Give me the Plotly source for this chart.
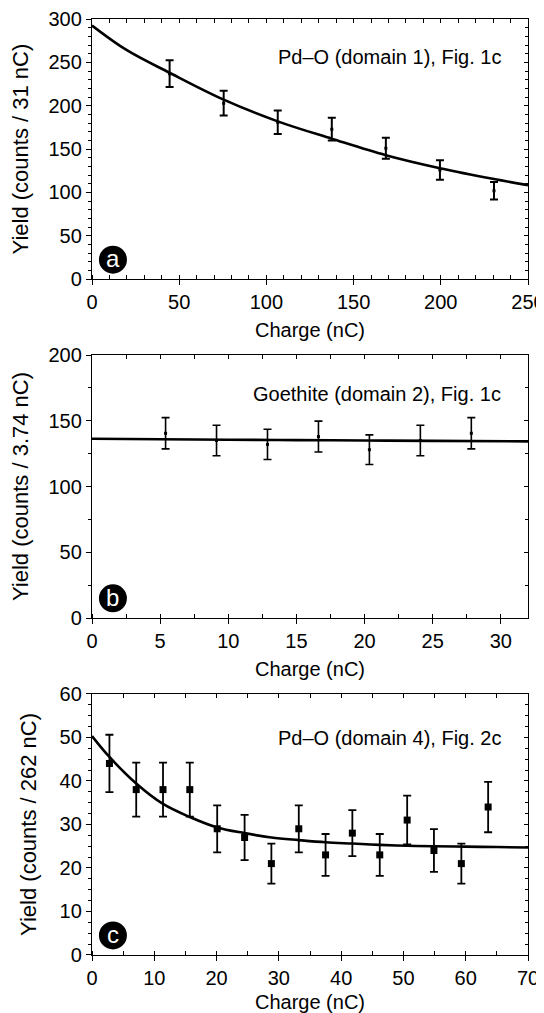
import plotly.graph_objects as go

# ---------------- data ----------------
# Panel a: Pd-O (domain 1)
a_charge = [44.5, 75.5, 106.5, 137.5, 168.5, 199.5, 230.5]
a_yield = [237, 203, 181, 173, 151, 126, 102]
a_err = [15.5, 14.2, 13.5, 13.1, 12.2, 11.2, 10.1]
a_fit_x = [0, 20, 44.5, 75.5, 106.5, 137.5, 168.5, 199.5, 230.5, 250]
a_fit_y = [292.5, 264, 238, 207, 182, 162, 143, 128, 115.5, 108.5]

# Panel b: Goethite (domain 2)
b_charge = [5.40, 9.14, 12.88, 16.62, 20.36, 24.10, 27.84]
b_yield = [140.5, 135, 132, 138, 128, 135, 140.5]
b_err = [11.9, 11.6, 11.5, 11.7, 11.3, 11.6, 11.9]
b_fit_x = [0, 5, 10, 15, 20, 25, 32]
b_fit_y = [136.3, 136.0, 135.6, 135.3, 135.0, 134.7, 134.3]

# Panel c: Pd-O (domain 4)
c_charge = [2.8, 7.1, 11.4, 15.7, 20.1, 24.5, 28.8, 33.2, 37.5, 41.8, 46.2, 50.6, 54.9, 59.3, 63.6]
c_yield = [44, 38, 38, 38, 29, 27, 21, 29, 23, 28, 23, 31, 24, 21, 34]
c_err = [6.6, 6.2, 6.2, 6.2, 5.4, 5.2, 4.6, 5.4, 4.8, 5.3, 4.8, 5.6, 4.9, 4.6, 5.8]
c_fit_x = [0, 2.8, 7.1, 11.4, 15.7, 20.1, 24.5, 28.8, 33.2, 37.5, 41.8, 46.2, 50.6, 55, 60, 65, 70]
c_fit_y = [50.3, 45.5, 39.4, 34.7, 31.7, 29.3, 28.0, 27.0, 26.4, 25.9, 25.6, 25.3, 25.1, 25.0, 24.9, 24.8, 24.7]

panel_labels = ["Pd\u2013O (domain 1), Fig. 1c", "Goethite (domain 2), Fig. 1c", "Pd\u2013O (domain 4), Fig. 2c"]
panel_letters = ["a", "b", "c"]
y_titles = ["Yield (counts / 31 nC)", "Yield (counts / 3.74 nC)", "Yield (counts / 262 nC)"]
x_title = "Charge (nC)"

# ---------------- figure ----------------
FONT = "Arial, Liberation Sans, sans-serif"
FS = 20
fig = go.Figure()

panels = [
    dict(cx=a_charge, cy=a_yield, ce=a_err, fx=a_fit_x, fy=a_fit_y, msize=3, xr=[0, 250], yr=[0, 300],
         xd=50, xm=10, yd=50, ym=10, dom=[0.722, 1.0], ly=0.855, cap=4, ew=2),
    dict(cx=b_charge, cy=b_yield, ce=b_err, fx=b_fit_x, fy=b_fit_y, msize=3, xr=[0, 32], yr=[0, 200],
         xd=5, xm=2.5, yd=50, ym=25, dom=[0.360, 0.641], ly=0.852, cap=4, ew=1.6),
    dict(cx=c_charge, cy=c_yield, ce=c_err, fx=c_fit_x, fy=c_fit_y, msize=7, xr=[0, 70], yr=[0, 60],
         xd=10, xm=5, yd=10, ym=2.5, dom=[0.0, 0.279], ly=0.83, cap=4, ew=1.8),
]

layout_axes = {}
for i, p in enumerate(panels):
    n = i + 1
    xs = "x" if n == 1 else f"x{n}"
    ys = "y" if n == 1 else f"y{n}"
    # fit curve
    fig.add_trace(go.Scatter(x=p["fx"], y=p["fy"], mode="lines", line=dict(color="black", width=2.6, shape="spline"),
                             xaxis=xs, yaxis=ys, showlegend=False, hoverinfo="skip"))
    # data points
    fig.add_trace(go.Scatter(x=p["cx"], y=p["cy"], mode="markers",
                             marker=dict(symbol="square", size=p["msize"], color="black"),
                             error_y=dict(type="data", array=p["ce"], visible=True, color="black",
                                          thickness=p["ew"], width=p["cap"]),
                             xaxis=xs, yaxis=ys, showlegend=False))
    ax_common = dict(showgrid=False, zeroline=False, showline=True, linecolor="black", linewidth=1.3,
                     automargin=False, ticklabeloverflow="allow",
                     tickfont=dict(family=FONT, size=FS, color="black"), tickcolor="black")
    layout_axes["xaxis" if n == 1 else f"xaxis{n}"] = dict(
        ax_common, range=p["xr"], anchor=ys, domain=[0, 1], tick0=0, dtick=p["xd"], ticks="outside", ticklen=5,
        tickwidth=1.3, minor=dict(dtick=p["xm"], ticks="inside", ticklen=4, tickcolor="black", tickwidth=1),
        title=dict(text=x_title, font=dict(family=FONT, size=FS, color="black"), standoff=10))
    layout_axes["yaxis" if n == 1 else f"yaxis{n}"] = dict(
        ax_common, range=p["yr"], anchor=xs, domain=p["dom"], tick0=0, dtick=p["yd"], ticks="outside", ticklen=5,
        tickwidth=1.3, minor=dict(dtick=p["ym"], ticks="outside", ticklen=3, tickcolor="black", tickwidth=1),
        title=dict(text=y_titles[i], font=dict(family=FONT, size=22, color="black"), standoff=16))
    # mirror axes (top / right) with inside ticks
    tx = f"xaxis{n + 3}"
    ty = f"yaxis{n + 3}"
    layout_axes[tx] = dict(overlaying=xs, side="top", anchor=ys, range=p["xr"], showgrid=False, zeroline=False,
                           automargin=False,
                           showline=True, linecolor="black", linewidth=1.3, showticklabels=False,
                           tick0=0, dtick=p["xd"], ticks="inside", ticklen=4, tickcolor="black", tickwidth=1.2,
                           minor=dict(dtick=p["xm"], ticks="inside", ticklen=4, tickcolor="black", tickwidth=1))
    layout_axes[ty] = dict(overlaying=ys, side="right", anchor=xs, range=p["yr"], showgrid=False, zeroline=False,
                           automargin=False,
                           showline=True, linecolor="black", linewidth=1.3, showticklabels=False,
                           tick0=0, dtick=p["yd"], ticks="inside", ticklen=4, tickcolor="black", tickwidth=1.2,
                           minor=dict(dtick=p["ym"], ticks="inside", ticklen=3, tickcolor="black", tickwidth=1))
    fig.add_trace(go.Scatter(x=[], y=[], xaxis=f"x{n + 3}", yaxis=ys, showlegend=False))
    fig.add_trace(go.Scatter(x=[], y=[], xaxis=xs, yaxis=f"y{n + 3}", showlegend=False))

    # panel text
    fig.add_annotation(text=panel_labels[i], xref=f"{xs} domain", yref=f"{ys} domain", x=0.943, y=p["ly"],
                       xanchor="right", yanchor="middle", showarrow=False,
                       font=dict(family=FONT, size=FS, color="black"))
    # circled letter
    fig.add_shape(type="circle", xref=f"{xs} domain", yref=f"{ys} domain", xsizemode="pixel", ysizemode="pixel",
                  xanchor=0.048, yanchor=0.075, x0=-14, x1=14, y0=-14, y1=14,
                  fillcolor="black", line=dict(color="black", width=0))
    fig.add_annotation(text=panel_letters[i], xref=f"{xs} domain", yref=f"{ys} domain", x=0.048, y=0.075,
                       xanchor="center", yanchor="middle", showarrow=False, yshift=1,
                       font=dict(family=FONT, size=24, color="white"))

# page has an 8px body margin, so the figure is sized to fit the window
fig.update_layout(
    width=536, height=1005,
    margin=dict(l=84, r=16, t=11, b=58, autoexpand=False),
    paper_bgcolor="white", plot_bgcolor="white",
    font=dict(family=FONT, size=FS, color="black"),
    showlegend=False,
    **layout_axes,
)

fig.write_html("out.html")
